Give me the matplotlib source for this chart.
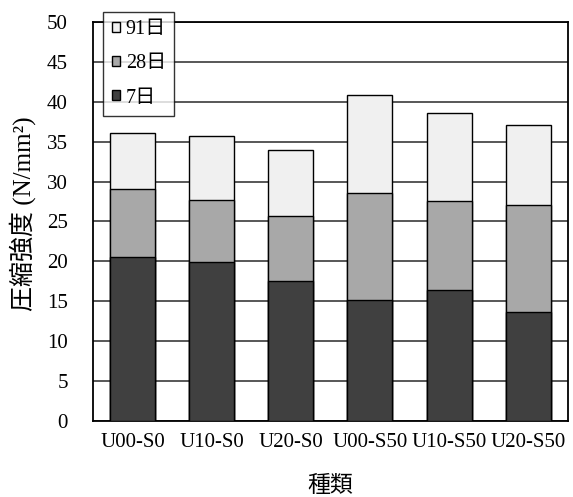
import matplotlib
matplotlib.use("Agg")
import matplotlib.pyplot as plt
import numpy as np

# data (compressive strength, N/mm2)
categories = ["U00-S0", "U10-S0", "U20-S0", "U00-S50", "U10-S50", "U20-S50"]
day7 = [20.5, 19.9, 17.5, 15.2, 16.4, 13.7]
day28 = [29.1, 27.7, 25.7, 28.6, 27.6, 27.1]
day91 = [36.1, 35.7, 34.0, 40.9, 38.6, 37.1]
labels = ["91日", "28日", "7日"]

fam = ["Liberation Serif", "Noto Sans CJK JP"]
plt.rcParams["font.family"] = fam

fig = plt.figure(figsize=(5.73, 4.97), dpi=100)
ax = fig.add_axes([0.162, 0.153, 0.829, 0.803])

x = np.arange(len(categories))
w = 0.57
# bars overlap: each series drawn from zero, longest first
ax.bar(x, day91, w, color="#f0f0f0", edgecolor="black", linewidth=1.0, label=labels[0], zorder=3)
ax.bar(x, day28, w, color="#a8a8a8", edgecolor="black", linewidth=1.0, label=labels[1], zorder=4)
ax.bar(x, day7, w, color="#404040", edgecolor="black", linewidth=1.0, label=labels[2], zorder=5)

ax.set_xlim(-0.5, len(categories) - 0.5)
ax.set_ylim(0, 50)
ax.set_yticks(np.arange(0, 51, 5))
ax.set_xticks(x)
ax.set_xticklabels(categories)
ax.tick_params(axis="both", length=0, labelsize=15)
ax.tick_params(axis="y", pad=18)
ax.tick_params(axis="x", pad=9)
ax.yaxis.grid(True, color="#4a4a4a", linewidth=1.3, zorder=0)
for s in ax.spines.values():
    s.set_color("black")
    s.set_linewidth(1.3)

ax.set_ylabel("圧縮強度 (N/mm²)", fontsize=18)
ax.yaxis.set_label_coords(-0.12, 0.519)
ax.set_xlabel("種類", fontsize=16.5, labelpad=17)

leg = ax.legend(loc="upper left", bbox_to_anchor=(0.18, 0.976), bbox_transform=fig.transFigure,
                fontsize=14.5, frameon=True, fancybox=False, edgecolor="black",
                handlelength=0.4, handleheight=0.4, handletextpad=0.3,
                labelspacing=0.75, borderpad=0.42, borderaxespad=0)
leg.get_frame().set_linewidth(1.0)
leg.set_zorder(10)

fig.savefig("out.png", dpi=100)
